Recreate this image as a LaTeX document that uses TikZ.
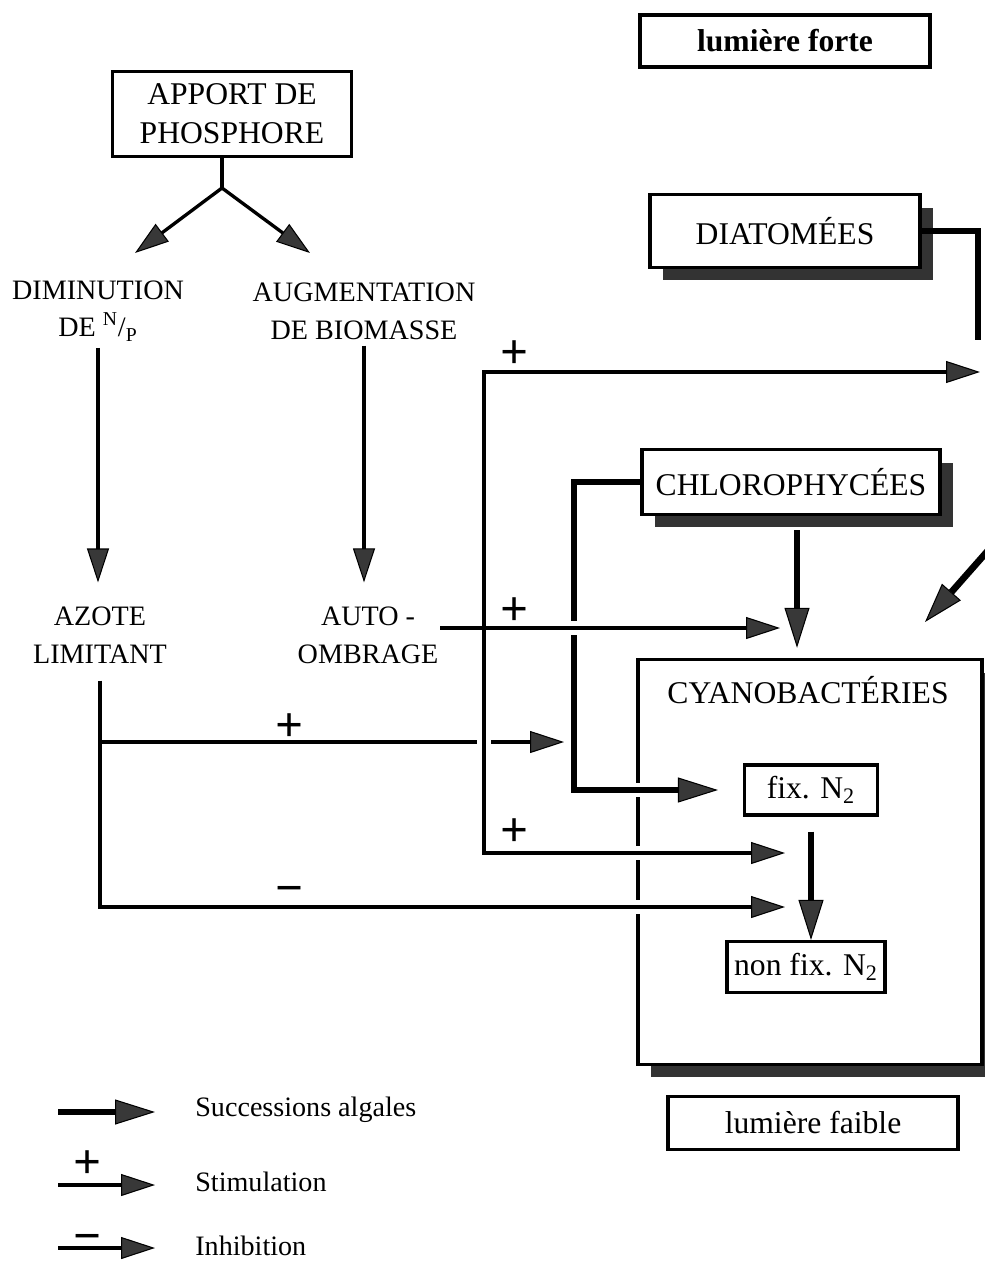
\documentclass[tikz,border=0pt]{standalone}
\usepackage{fontspec}
\setmainfont{Liberation Serif}
\usetikzlibrary{positioning,arrows.meta,shadows}
\tikzset{
  stimtip/.tip={Triangle[length=0.68cm,width=0.44cm,fill=black!78,line width=0.6pt]},
  succtip/.tip={Triangle[length=0.8cm,width=0.5cm,fill=black!78,line width=0.6pt]},
  thinline/.style={line width=1.9pt},
  thickline/.style={line width=3.8pt},
  stim/.style={thinline,-stimtip},
  succ/.style={thickline,-succtip},
  halo/.style={preaction={draw=white,line width=8pt,arrows=-,shorten <=#1}},
  halo/.default=3pt,
  lbl/.style={font=\fontsize{16}{21.5}\selectfont,align=center,inner sep=0pt},
  boxlbl/.style={draw,line width=1.8pt,fill=white,font=\fontsize{18}{22}\selectfont,align=center,inner sep=0pt},
  shadowbox/.style={boxlbl,line width=2pt,general shadow={fill=black!80,shadow xshift=0.26cm,shadow yshift=-0.26cm}},
  sign/.style={font=\fontsize{28}{28}\selectfont\bfseries,inner sep=0pt}
}
\begin{document}
\begin{tikzpicture}[x=0.02cm,y=-0.02cm]
  \useasboundingbox (0,0) rectangle (984,1261);
  % boxes
  \node[boxlbl,line width=2.4pt,minimum width=5.8cm,minimum height=1.04cm,font=\fontsize{18}{22}\selectfont\bfseries] (forte) at (785,41) {lumière forte};
  \node[boxlbl,minimum width=4.78cm,minimum height=1.7cm] (phos) at (232,114) {APPORT DE\\PHOSPHORE};
  \node[shadowbox,minimum width=5.4cm,minimum height=1.46cm] (diatom) at (785,231) {DIATOMÉES};
  \node[shadowbox,minimum width=5.96cm,minimum height=1.3cm] (chloro) at (791,482) {CHLOROPHYCÉES};
  \node[shadowbox,minimum width=6.88cm,minimum height=8.1cm] (cyano) at (810,862) {};
  \node[lbl,font=\fontsize{18}{22}\selectfont] (cyanolbl) at (808,690) {CYANOBACTÉRIES};
  \node[boxlbl,minimum width=2.66cm,minimum height=1cm] (fixn) at (811,790) {fix. N\textsubscript{2}};
  \node[boxlbl,minimum width=3.16cm,minimum height=1.02cm] (nonfix) at (806,967) {non fix. N\textsubscript{2}};
  \node[boxlbl,minimum width=5.8cm,minimum height=1.06cm] (faible) at (813,1123) {lumière faible};
  % labels
  \node[lbl] (dimin) at (98,311) {DIMINUTION\\DE \textsuperscript{N}/\textsubscript{P}};
  \node[lbl] (augm) at (364,311) {AUGMENTATION\\DE BIOMASSE};
  \node[lbl] (azote) at (100,635) {AZOTE\\LIMITANT};
  \node[lbl] (auto) at (368,635) {AUTO -\\OMBRAGE};
  % points
  \coordinate (fork) at (222,188);
  \coordinate (dimtip) at (135,253);
  \coordinate (augtip) at (310,253);
  \coordinate (azcorner) at (100,907);
  \coordinate (azbranch) at (100,742);
  \coordinate (inhtip) at (785,907);
  \coordinate (brtip) at (564,742);
  \coordinate (ctop) at (484,372);
  \coordinate (cbot) at (484,853);
  \coordinate (toptip) at (980,372);
  \coordinate (bottip) at (785,853);
  \coordinate (chlk) at (574,482);
  \coordinate (chlb) at (574,790);
  \coordinate (autoout) at (440,628);
  \coordinate (autotip) at (780,628);
  \coordinate (chlout) at (797,530);
  \coordinate (diagin) at (992,546);
  \coordinate (diagtip) at (925,622);
  \coordinate (diatk) at (978,231);
  \coordinate (diatend) at (978,340);
  % connectors
  \draw[thinline] (phos.south -| fork) -- (fork);
  \draw[stim] (fork) -- (dimtip);
  \draw[stim] (fork) -- (augtip);
  \draw[stim,shorten <=0.12cm,shorten >=0.48cm] (dimin.south) -- (dimin.south |- azote.north);
  \draw[stim,shorten <=0.12cm,shorten >=0.48cm] (augm.south) -- (augm.south |- auto.north);
  \draw[stim,halo,shorten <=0.34cm] (azote.south) -- (azcorner) -- (inhtip);
  \draw[stim] (azbranch) -- (brtip);
  \draw[stimtip-stimtip,thinline,halo] (toptip) -- (ctop) -- (cbot) -- (bottip);
  \draw[succ,halo,shorten >=0.5cm] (chloro.west) -- (chlk) -- (chlb) -- (fixn.west);
  \draw[stim,halo=1.1cm] (autoout) -- (autotip);
  \draw[succ,shorten >=0.2cm] (chlout) -- (chlout |- cyano.north);
  \draw[succ] (diagin) -- (diagtip);
  \draw[thickline] (diatom.east) -- (diatk) -- (diatend);
  \draw[succ,shorten <=0.3cm] (fixn.south) -- (fixn.south |- nonfix.north);
  % signs
  \node[sign] (plustop) at (515,355) {+};
  \node[sign] (plusauto) at (515,612) {+};
  \node[sign] (plusazote) at (290,728) {+};
  \node[sign] (plusbot) at (515,833) {+};
  \node[sign] (minusazote) at (290,895) {−};
  % legend
  \node[lbl,anchor=west] (lgsucc) at (195,1110) {Successions algales};
  \node[lbl,anchor=west] (lgstim) at (195,1182) {Stimulation};
  \node[lbl,anchor=west] (lginh) at (195,1246) {Inhibition};
  \coordinate (lgsa) at (58,1112);
  \coordinate (lgstima) at (58,1185);
  \coordinate (lginha) at (58,1248);
  \draw[succ,shorten >=0.8cm] (lgsa) -- (lgsa -| lgsucc.west);
  \draw[stim,shorten >=0.8cm] (lgstima) -- (lgstima -| lgstim.west);
  \draw[stim,shorten >=0.8cm] (lginha) -- (lginha -| lginh.west);
  \node[sign] (lgplus) at (88,1165) {+};
  \node[sign] (lgminus) at (88,1243) {−};
\end{tikzpicture}
\end{document}
